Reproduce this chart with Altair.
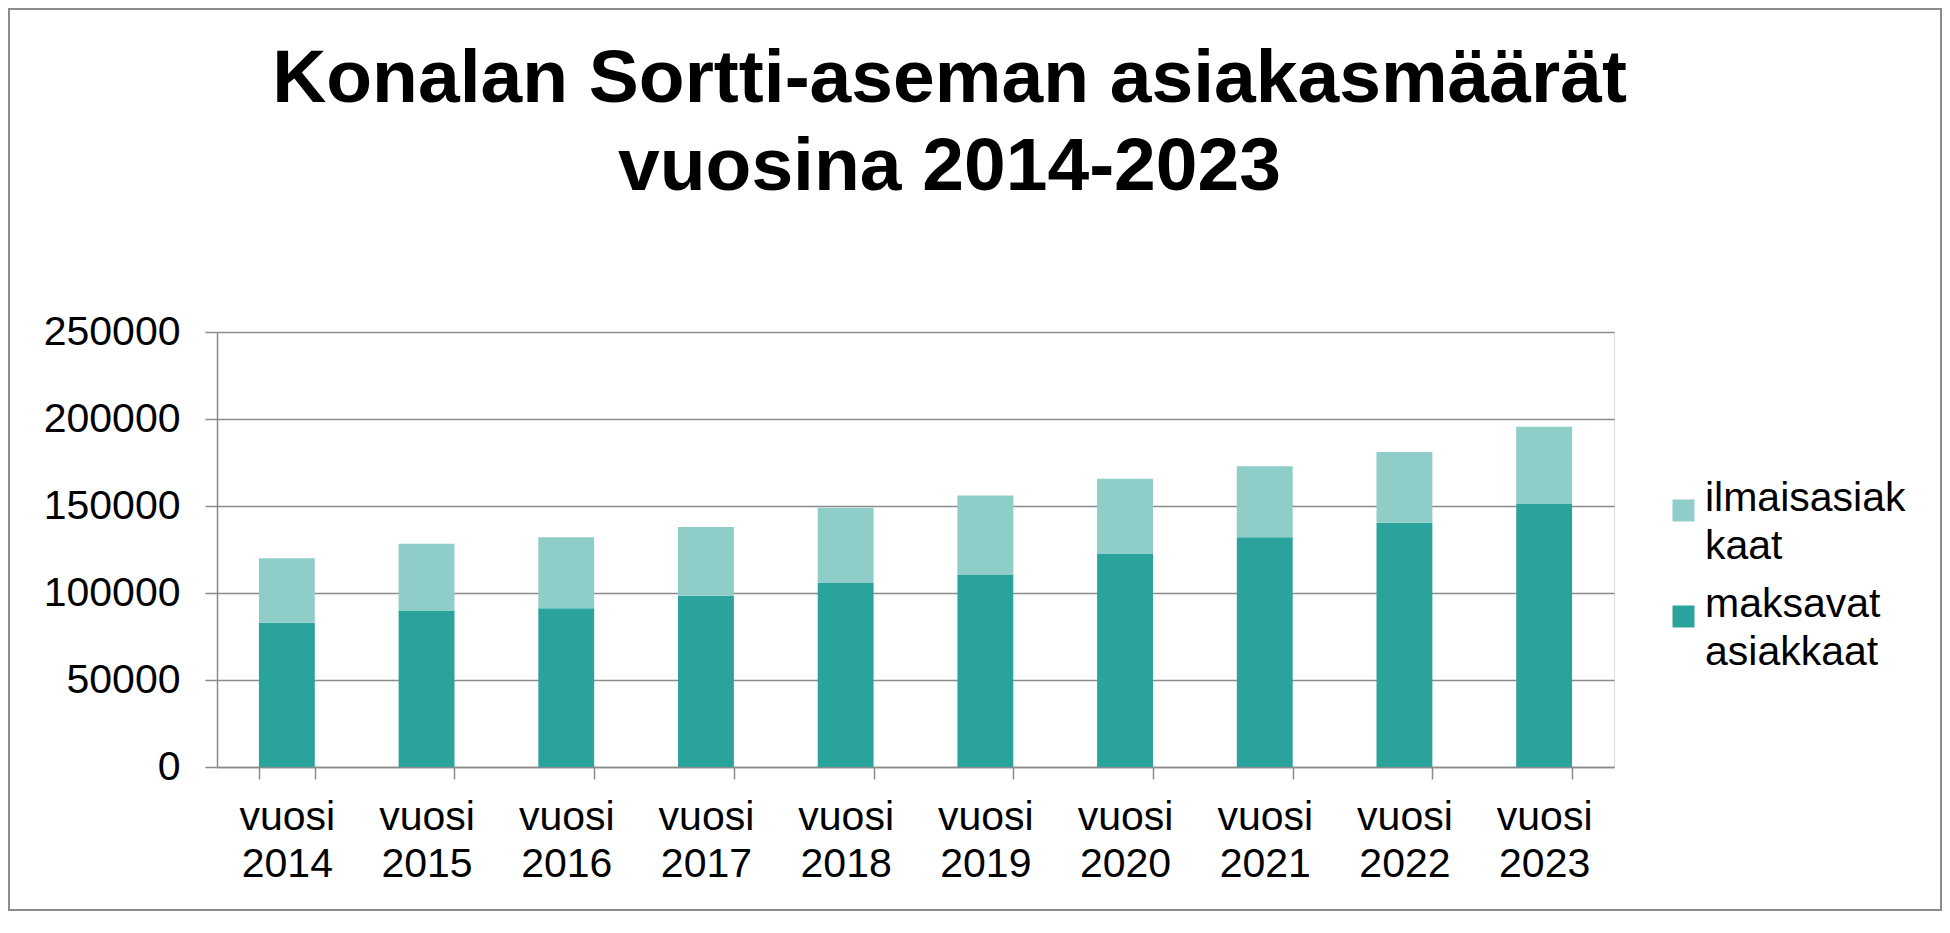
import json
import altair as alt
import pandas as pd

# ---- data ----
years = ["vuosi 2014", "vuosi 2015", "vuosi 2016", "vuosi 2017", "vuosi 2018",
         "vuosi 2019", "vuosi 2020", "vuosi 2021", "vuosi 2022", "vuosi 2023"]
maksavat = [82900, 90000, 91200, 98400, 105700, 110300, 122400, 132000, 140400, 151200]
ilmaiset = [37100, 38300, 40800, 39600, 43300, 45700, 43200, 40900, 40700, 44300]
series = ["ilmaisasiakkaat", "maksavat asiakkaat"]
legend_lines = [["ilmaisasiak", "kaat"], ["maksavat", "asiakkaat"]]
colors = ["#8ECDC8", "#2BA39D"]
y_ticks = [0, 50000, 100000, 150000, 200000, 250000]
title_lines = ["Konalan Sortti-aseman asiakasmäärät", "vuosina 2014-2023"]

rows = []
for i, yr in enumerate(years):
    rows.append({"vuosi": yr, "sarja": series[1], "arvo": maksavat[i], "jarj": 0})
    rows.append({"vuosi": yr, "sarja": series[0], "arvo": ilmaiset[i], "jarj": 1})
df = pd.DataFrame(rows)

FONT = "Liberation Sans"
GRAY = "#8b8b8b"

legend_expr = (f"datum.label == '{series[0]}' ? {json.dumps(legend_lines[0])} : "
               f"{json.dumps(legend_lines[1])}")

bars = alt.Chart(df).mark_bar().encode(
    x=alt.X("vuosi:N", sort=years, title=None,
            scale=alt.Scale(paddingInner=0.6, paddingOuter=0.3),
            axis=alt.Axis(labelAngle=0, labelExpr="split(datum.label, ' ')",
                          labelFont=FONT, labelFontSize=41, labelLineHeight=47,
                          labelColor="black", labelBaseline="top", labelPadding=18,
                          tickBand="extent", tickSize=12, tickColor=GRAY, tickWidth=1.5,
                          domainColor=GRAY, domainWidth=1.5, grid=False)),
    y=alt.Y("arvo:Q", stack="zero", title=None,
            scale=alt.Scale(domain=[0, 250000], nice=False),
            axis=alt.Axis(values=y_ticks, format="d", grid=True, gridColor=GRAY,
                          gridWidth=1.5, tickSize=12, tickColor=GRAY, tickWidth=1.5,
                          domainColor=GRAY, domainWidth=1.5,
                          labelFont=FONT, labelFontSize=41, labelColor="black",
                          labelPadding=25)),
    color=alt.Color("sarja:N",
                    scale=alt.Scale(domain=series, range=colors),
                    legend=alt.Legend(title=None, orient="none", legendX=1446, legendY=158,
                                      labelExpr=legend_expr, labelFont=FONT,
                                      labelFontSize=41, labelLimit=0,
                                      labelColor="black", labelBaseline="alphabetic",
                                      symbolType="square", symbolSize=484,
                                      symbolStrokeWidth=0, labelOffset=1,
                                      rowPadding=16, padding=0)),
    order=alt.Order("jarj:Q"),
)

frame = alt.Chart(pd.DataFrame({"k": [0]})).mark_rect(
    fill="white", fillOpacity=0, stroke=GRAY, strokeWidth=2
).encode(
    x=alt.value(-208), x2=alt.value(1724), y=alt.value(-323), y2=alt.value(578)
)

chart = alt.layer(frame, bars).properties(
    width=1397, height=435, padding=0,
    title=alt.TitleParams(text=title_lines, font=FONT, fontSize=75, fontWeight="bold",
                          lineHeight=88, color="black", anchor="middle", frame="group",
                          dx=34, dy=202),
).configure_view(stroke=None).configure(
    background="white", style={"guide-label": {"lineHeight": 48}}
)

chart.save("out.html", embed_options={"renderer": "svg", "actions": False})
